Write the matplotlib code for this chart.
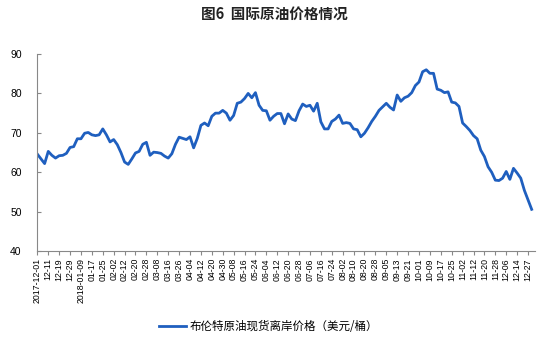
import matplotlib
matplotlib.use("Agg")
import matplotlib.pyplot as plt
import numpy as np

plt.rcParams['font.family'] = ['Noto Sans CJK SC', 'DejaVu Sans']

# Brent spot FOB price (USD/bbl), sampled every second trading day
brent = [
    64.6, 63.4, 62.2, 65.3, 64.3, 63.6, 64.2, 64.3, 64.8, 66.3,
    66.5, 68.5, 68.5, 69.9, 70.1, 69.5, 69.3, 69.5, 71.0, 69.5,
    67.7, 68.3, 67.0, 65.0, 62.6, 62.0, 63.4, 64.9, 65.3, 67.1,
    67.6, 64.3, 65.1, 65.0, 64.8, 64.1, 63.6, 64.7, 67.1, 68.9,
    68.6, 68.3, 69.0, 66.2, 68.6, 71.9, 72.5, 71.8, 74.2, 75.0,
    75.0, 75.7, 75.0, 73.2, 74.4, 77.5, 77.8, 78.7, 80.0, 78.9,
    80.2, 77.0, 75.7, 75.6, 73.2, 74.2, 74.9, 74.9, 72.3, 74.8,
    73.5, 73.1, 75.6, 77.3, 76.7, 77.0, 75.5, 77.5, 72.8, 71.0,
    71.0, 72.9, 73.5, 74.5, 72.4, 72.6, 72.4, 71.0, 70.8, 69.0,
    69.9, 71.3, 72.9, 74.2, 75.7, 76.6, 77.5, 76.5, 75.8, 79.6,
    78.0, 78.9, 79.3, 80.2, 82.0, 82.9, 85.5, 86.0, 85.1, 85.1,
    81.1, 80.8, 80.2, 80.4, 77.8, 77.6, 76.7, 72.5, 71.6, 70.6,
    69.3, 68.5, 65.6, 64.0, 61.4, 60.0, 58.0, 57.9, 58.5, 60.2,
    58.2, 61.0, 59.8, 58.5, 55.4, 53.0, 50.6,
]

# Date labels, one every third sample
date_labels = [
    "2017-12-01", "12-11", "12-19", "12-29", "2018-01-09", "01-17", "01-25",
    "02-02", "02-12", "02-20", "02-28", "03-08", "03-16", "03-26", "04-04",
    "04-12", "04-20", "04-30", "05-08", "05-16", "05-24", "06-04", "06-12",
    "06-20", "06-28", "07-06", "07-16", "07-24", "08-02", "08-10", "08-20",
    "08-28", "09-05", "09-13", "09-21", "10-01", "10-09", "10-17", "10-25",
    "11-02", "11-12", "11-20", "11-28", "12-06", "12-14", "12-27",
]
label_step = 3

y_ticks = [40, 50, 60, 70, 80, 90]
series_name = "布伦特原油现货离岸价格（美元/桶）"
title = "图6  国际原油价格情况"

fig = plt.figure(figsize=(5.48, 3.44), dpi=100)
ax = fig.add_axes([0.0675, 0.270, 0.908, 0.573])

x = np.arange(len(brent))
ax.plot(x, brent, color="#1F5FBF", linewidth=2.0, solid_joinstyle="round",
        label=series_name)

ax.set_ylim(40, 90)
ax.set_yticks(y_ticks)
ax.set_xlim(-0.1, len(brent) - 0.2)
tick_pos = np.arange(len(date_labels)) * label_step
ax.set_xticks(tick_pos)
ax.set_xticklabels(date_labels, rotation=90, fontsize=6.3,
                   family=['Liberation Sans', 'DejaVu Sans'])
for lab in ax.get_yticklabels():
    lab.set_fontsize(7.5)
    lab.set_family(['Liberation Sans', 'DejaVu Sans'])

for side in ("top", "right"):
    ax.spines[side].set_visible(False)
for side in ("left", "bottom"):
    ax.spines[side].set_color("#888888")
    ax.spines[side].set_linewidth(0.8)
ax.tick_params(axis="y", direction="in", length=3, color="#888888", pad=11)
ax.tick_params(axis="x", direction="out", length=3, color="#888888", pad=2)

fig.text(0.5, 0.96, title, ha="center", va="center", fontsize=10.5,
         fontweight="bold", color="#222222")

fig.legend(loc="center", bbox_to_anchor=(0.49, 0.052), frameon=False,
           fontsize=8.3, handlelength=2.4, handletextpad=0.3)

fig.savefig("out.png", dpi=100)
